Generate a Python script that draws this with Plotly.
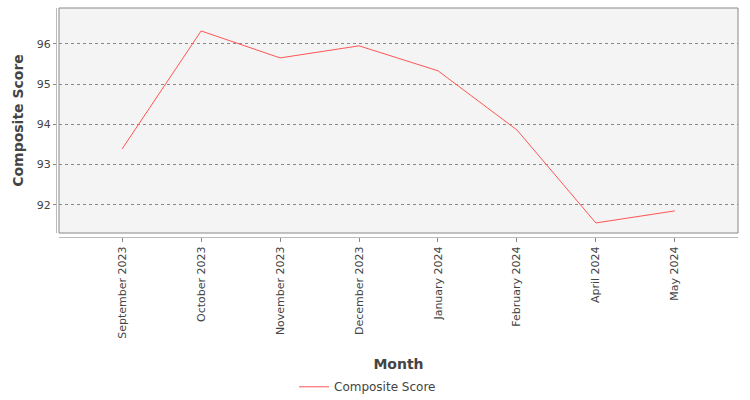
import plotly.graph_objects as go

# dados
months = ["September 2023", "October 2023", "November 2023", "December 2023",
          "January 2024", "February 2024", "April 2024", "May 2024"]
composite_score = [93.39, 96.32, 95.65, 95.95, 95.33, 93.86, 91.55, 91.85]
y_ticks = [92, 93, 94, 95, 96]

W, H = 750, 400
ml, mr, mt, mb = 56, 12, 8, 163
pw, ph = W - ml - mr, H - mt - mb

fig = go.Figure()
fig.add_trace(go.Scatter(
    x=list(range(len(months))), y=composite_score,
    mode="lines", name="Composite Score",
    line=dict(color="#ff5555", width=1),
))

fig.update_layout(
    width=W, height=H,
    margin=dict(l=ml, r=mr, t=mt, b=mb),
    paper_bgcolor="white",
    plot_bgcolor="#f4f4f4",
    font=dict(family="DejaVu Sans", size=11, color="#444444"),
    showlegend=True,
    legend=dict(orientation="h", xref="container", x=0.49, xanchor="center",
                yref="container", y=0.033, yanchor="middle",
                itemwidth=30,
                font=dict(size=12, color="#444444")),
    xaxis=dict(
        domain=[3 / pw, 1],
        anchor="free", position=0,
        tickmode="array", tickvals=list(range(len(months))), ticktext=months,
        tickangle=-90, range=[-0.8, 7.8],
        showgrid=False, zeroline=False, automargin=False,
        showline=True, linecolor="#bbbbbb", linewidth=1,
        ticks="outside", ticklen=4, tickcolor="#888888",
        title=dict(text="Month", standoff=22,
                   font=dict(size=14, color="#444444", weight="bold")),
    ),
    yaxis=dict(
        domain=[4 / ph, 1],
        anchor="free", position=0,
        tickvals=y_ticks, range=[91.3, 96.89],
        showgrid=True, gridcolor="#888888", griddash="dot", gridwidth=1,
        zeroline=False, automargin=False,
        showline=True, linecolor="#bbbbbb", linewidth=1,
        ticks="outside", ticklen=3, tickcolor="#888888",
        title=dict(text="Composite Score", standoff=8,
                   font=dict(size=14, color="#444444", weight="bold")),
    ),
)

# borda da área do gráfico
fig.add_shape(type="rect", xref="x domain", yref="y domain",
              x0=0, x1=1, y0=0, y1=1,
              line=dict(color="#888888", width=1), fillcolor="rgba(0,0,0,0)")

fig.write_html("out.html", config={"displayModeBar": False},
               post_script="document.body.style.margin='0';")
